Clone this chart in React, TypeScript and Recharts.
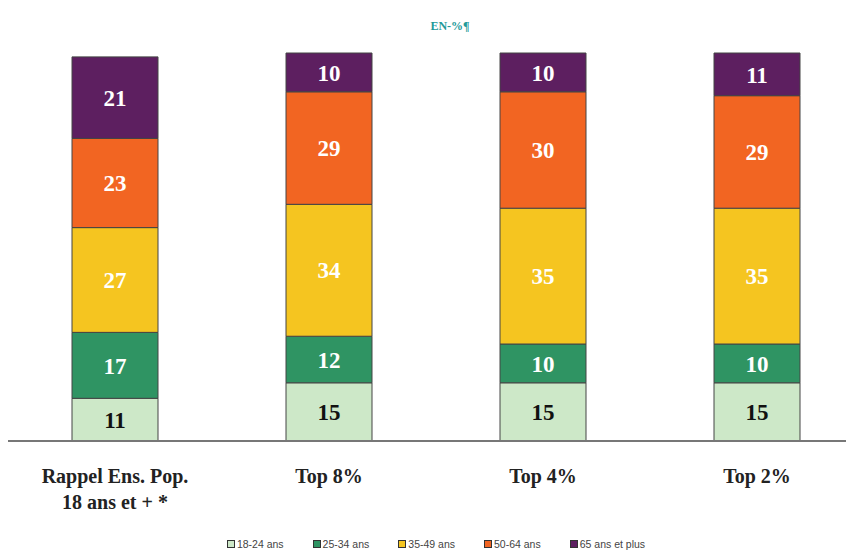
import React from 'react';
import { BarChart, Bar, XAxis, YAxis, LabelList, Legend, Customized } from 'recharts';

const categories = ['Rappel Ens. Pop.|18 ans et + *', 'Top 8%', 'Top 4%', 'Top 2%'];
const age1824 = [11, 15, 15, 15];
const age2534 = [17, 12, 10, 10];
const age3549 = [27, 34, 35, 35];
const age5064 = [23, 29, 30, 29];
const age65plus = [21, 10, 10, 11];

const seriesNames = ['18-24 ans', '25-34 ans', '35-49 ans', '50-64 ans', '65 ans et plus'];
const seriesKeys = ['a', 'b', 'c', 'd', 'e'];
const seriesColors = ['#cde8c8', '#2f9463', '#f5c520', '#f26522', '#5d1f60'];
const labelColors = ['#111111', '#ffffff', '#ffffff', '#ffffff', '#ffffff'];

const data = categories.map((name, i) => ({
  name,
  a: age1824[i],
  b: age2534[i],
  c: age3549[i],
  d: age5064[i],
  e: age65plus[i],
}));

const serif = '"Liberation Serif", "Times New Roman", serif';

const CategoryTick = (props: any) => {
  const { x, y, payload } = props;
  const lines = String(payload.value).split('|');
  return (
    <text
      x={x}
      y={y}
      textAnchor="middle"
      fontFamily={serif}
      fontWeight="bold"
      fontSize={20}
      fill="#222"
    >
      {lines.map((l, i) => (
        <tspan key={i} x={x} dy={i === 0 ? 34 : 26}>
          {l}
        </tspan>
      ))}
    </text>
  );
};

const LegendContent = () => (
  <div
    style={{
      width: 856,
      display: 'flex',
      justifyContent: 'center',
      gap: 29,
      fontFamily: '"Liberation Sans", Arial, sans-serif',
      fontSize: 10.5,
      color: '#444',
      lineHeight: '16px',
    }}
  >
    {seriesNames.map((n, i) => (
      <span key={n} style={{ display: 'flex', alignItems: 'center' }}>
        <span
          style={{
            display: 'inline-block',
            width: 6,
            height: 6,
            background: seriesColors[i],
            border: '1px solid #333',
            marginRight: 2,
          }}
        />
        {n}
      </span>
    ))}
  </div>
);

const Title = () => (
  <text
    x={442}
    y={22}
    textAnchor="middle"
    fontFamily={serif}
    fontWeight="bold"
    fontSize={12}
    fill="#1f9a9a"
  >
    EN-%¶
  </text>
);

export default function App() {
  return (
    <div style={{ width: 846, height: 545, overflow: 'hidden' }}>
      <BarChart
        width={856}
        height={545}
        data={data}
        margin={{ top: 45, right: 0, left: 0, bottom: 1 }}
        barCategoryGap={64}
      >
        <XAxis
          dataKey="name"
          axisLine={{ stroke: '#777', strokeWidth: 2 }}
          tickLine={false}
          interval={0}
          height={95}
          tick={<CategoryTick />}
        />
        <YAxis hide domain={[0, 100]} />
        <Customized component={Title} />
        <Legend verticalAlign="bottom" height={16} content={<LegendContent />} />
        {seriesKeys.map((k, i) => (
          <Bar
            key={k}
            dataKey={k}
            name={seriesNames[i]}
            stackId="s"
            fill={seriesColors[i]}
            stroke="#444"
            strokeWidth={1}
            isAnimationActive={false}
          >
            <LabelList
              dataKey={k}
              position="center"
              fill={labelColors[i]}
              fontFamily={serif}
              fontWeight="bold"
              fontSize={23}
            />
          </Bar>
        ))}
      </BarChart>
    </div>
  );
}
